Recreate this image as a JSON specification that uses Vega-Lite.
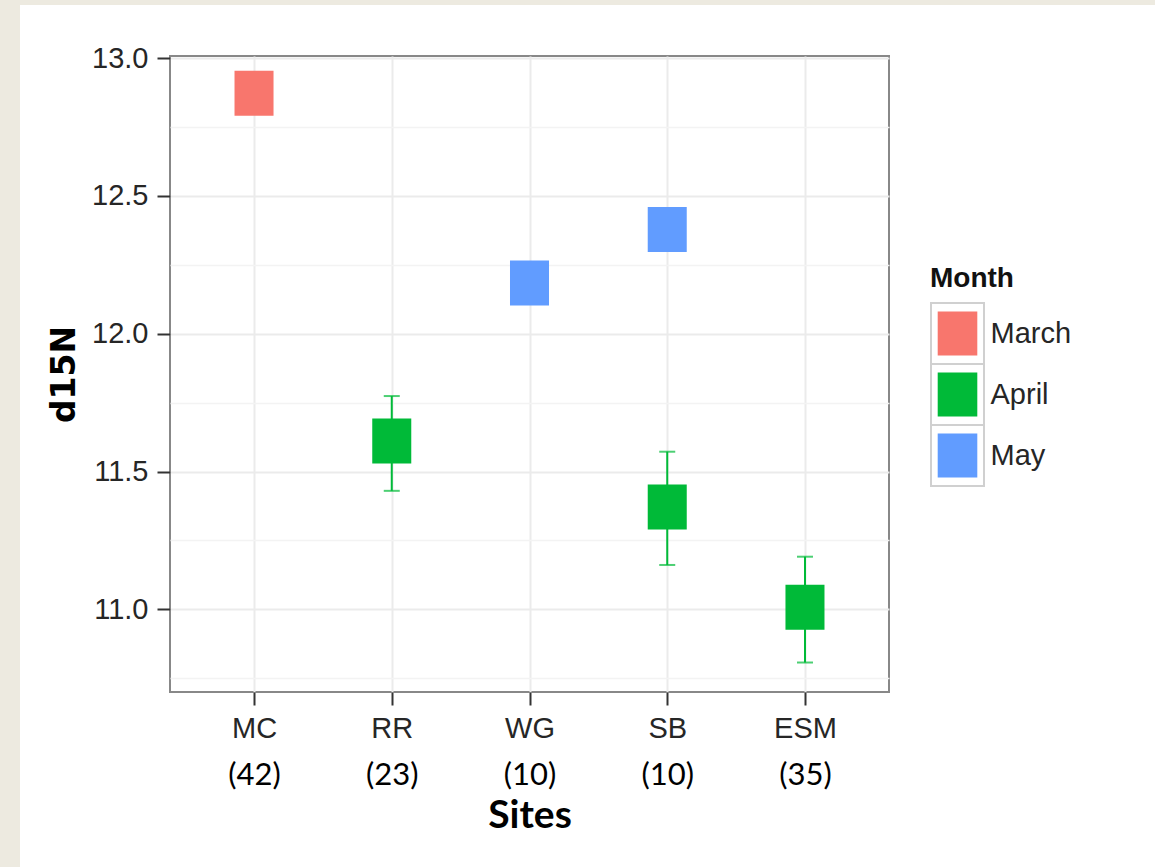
{
  "$schema": "https://vega.github.io/schema/vega-lite/v6.json",
  "background": "white",
  "padding": 0,
  "config": {
    "view": {"stroke": null},
    "font": "Liberation Sans"
  },
  "datasets": {
    "means": [
      {"Site": "MC (42)", "Month": "March", "d15N": 12.873},
      {"Site": "RR (23)", "Month": "April", "d15N": 11.611, "lo": 11.43, "hi": 11.774},
      {"Site": "WG (10)", "Month": "May", "d15N": 12.184},
      {"Site": "SB (10)", "Month": "May", "d15N": 12.378},
      {"Site": "SB (10)", "Month": "April", "d15N": 11.371, "lo": 11.161, "hi": 11.572},
      {"Site": "ESM (35)", "Month": "April", "d15N": 11.008, "lo": 10.807, "hi": 11.191}
    ],
    "months": [
      {"Month": "March"},
      {"Month": "April"},
      {"Month": "May"}
    ]
  },
  "bounds": "flush",
  "spacing": 0,
  "vconcat": [
    {
      "width": 1155,
      "height": 5,
      "data": {"values": []},
      "mark": "point",
      "encoding": {},
      "view": {"fill": "#EDEAE0", "stroke": null}
    },
    {
      "bounds": "flush",
      "spacing": 150,
      "hconcat": [
        {
          "width": 20,
          "height": 862,
          "data": {"values": []},
          "mark": "point",
          "encoding": {},
          "view": {"fill": "#EDEAE0", "stroke": null}
        },
        {
          "bounds": "flush",
          "spacing": 761,
          "hconcat": [
            {
              "bounds": "flush",
              "spacing": 50,
              "vconcat": [
                {
                  "width": 719,
                  "height": 1,
                  "data": {"values": []},
                  "mark": "point",
                  "encoding": {}
                },
                {
                  "width": 719,
                  "height": 636,
                  "data": {"name": "means"},
                  "view": {"stroke": "#888888", "strokeWidth": 2},
                  "resolve": {"axis": {"x": "independent", "y": "independent"}},
                  "layer": [
                    {
                      "mark": {"type": "rule", "strokeWidth": 2},
                      "encoding": {
                        "x": {
                          "field": "Site",
                          "type": "nominal",
                          "sort": ["MC (42)", "RR (23)", "WG (10)", "SB (10)", "ESM (35)"],
                          "scale": {"type": "point", "domain": ["MC (42)", "RR (23)", "WG (10)", "SB (10)", "ESM (35)"], "padding": 0.61},
                          "axis": {
                            "orient": "bottom",
                            "labelExpr": "split(datum.label, ' ')[1]",
                            "labelFont": "Lato",
                            "labelFontSize": 31,
                            "labelColor": "#000000",
                            "labelAngle": 0,
                            "ticks": false,
                            "tickSize": 0,
                            "labelPadding": 68,
                            "grid": false,
                            "domain": false,
                            "title": "Sites",
                            "titleFont": "Lato",
                            "titleFontSize": 39,
                            "titleFontWeight": "bold",
                            "titleColor": "#000000",
                            "titlePadding": 6
                          }
                        },
                        "y": {
                          "field": "lo",
                          "type": "quantitative",
                          "scale": {"domain": [10.7, 13.008], "nice": false, "zero": false},
                          "axis": {
                            "orient": "left",
                            "values": [10.75, 11.25, 11.75, 12.25, 12.75],
                            "labels": false,
                            "ticks": false,
                            "domain": false,
                            "grid": true,
                            "gridColor": "#F3F3F3",
                            "gridWidth": 1.5,
                            "title": null
                          }
                        },
                        "y2": {"field": "hi"},
                        "color": {
                          "field": "Month",
                          "type": "nominal",
                          "scale": {"domain": ["March", "April", "May"], "range": ["#F8766D", "#00BA38", "#619CFF"]},
                          "legend": null
                        }
                      }
                    },
                    {
                      "mark": {"type": "tick", "orient": "horizontal", "size": 16, "thickness": 2},
                      "encoding": {
                        "x": {"field": "Site", "type": "nominal", "axis": null},
                        "y": {"field": "lo", "type": "quantitative", "axis": null},
                        "color": {"field": "Month", "type": "nominal", "legend": null}
                      }
                    },
                    {
                      "mark": {"type": "tick", "orient": "horizontal", "size": 16, "thickness": 2},
                      "encoding": {
                        "x": {"field": "Site", "type": "nominal", "axis": null},
                        "y": {"field": "hi", "type": "quantitative", "axis": null},
                        "color": {"field": "Month", "type": "nominal", "legend": null}
                      }
                    },
                    {
                      "mark": {"type": "point", "shape": "M-0.867,-1H0.867V1H-0.867Z", "size": 2025, "filled": true, "opacity": 1, "strokeWidth": 0},
                      "encoding": {
                        "x": {
                          "field": "Site",
                          "type": "nominal",
                          "axis": {
                            "orient": "bottom",
                            "labelExpr": "split(datum.label, ' ')[0]",
                            "labelFont": "Liberation Sans",
                            "labelFontSize": 29,
                            "labelColor": "#262626",
                            "labelAngle": 0,
                            "labelPadding": 9,
                            "tickSize": 13,
                            "tickWidth": 2,
                            "tickColor": "#333333",
                            "domain": false,
                            "grid": true,
                            "gridColor": "#EBEBEB",
                            "gridWidth": 2,
                            "title": null
                          }
                        },
                        "y": {
                          "field": "d15N",
                          "type": "quantitative",
                          "axis": {
                            "orient": "left",
                            "values": [11, 11.5, 12, 12.5, 13],
                            "format": ".1f",
                            "labelFont": "Liberation Sans",
                            "labelFontSize": 29,
                            "labelColor": "#262626",
                            "labelPadding": 9,
                            "tickSize": 13,
                            "tickWidth": 2,
                            "tickColor": "#333333",
                            "domain": false,
                            "grid": true,
                            "gridColor": "#EBEBEB",
                            "gridWidth": 2,
                            "title": "d15N",
                            "titleFont": "DejaVu Sans",
                            "titleFontSize": 33,
                            "titleFontWeight": "bold",
                            "titleColor": "#000000",
                            "titlePadding": 10
                          }
                        },
                        "color": {"field": "Month", "type": "nominal", "legend": null}
                      }
                    }
                  ]
                }
              ]
            },
            {
              "bounds": "flush",
              "spacing": 297,
              "vconcat": [
                {
                  "width": 53,
                  "height": 1,
                  "data": {"values": []},
                  "mark": "point",
                  "encoding": {}
                },
                {
                  "width": 53,
                  "height": 183,
                  "data": {"name": "months"},
                  "title": {
                    "text": "Month",
                    "anchor": "start",
                    "font": "Liberation Sans",
                    "fontSize": 28,
                    "fontWeight": "bold",
                    "color": "#111111",
                    "offset": 9
                  },
                  "encoding": {
                    "y": {
                      "field": "Month",
                      "type": "nominal",
                      "sort": ["March", "April", "May"],
                      "scale": {"domain": ["March", "April", "May"], "paddingInner": 0, "paddingOuter": 0},
                      "axis": {
                        "orient": "right",
                        "labelFont": "Liberation Sans",
                        "labelFontSize": 29,
                        "labelColor": "#262626",
                        "labelPadding": 6,
                        "ticks": false,
                        "domain": false,
                        "grid": false,
                        "title": null
                      }
                    }
                  },
                  "layer": [
                    {
                      "mark": {"type": "rect", "fill": "#FFFFFF", "stroke": "#D0D0D0", "strokeWidth": 2}
                    },
                    {
                      "mark": {"type": "point", "shape": "M-0.9,-1H0.9V1H-0.9Z", "size": 1936, "filled": true, "opacity": 1, "strokeWidth": 0},
                      "encoding": {
                        "color": {"field": "Month", "type": "nominal", "legend": null}
                      }
                    }
                  ]
                }
              ]
            }
          ]
        }
      ]
    }
  ]
}
